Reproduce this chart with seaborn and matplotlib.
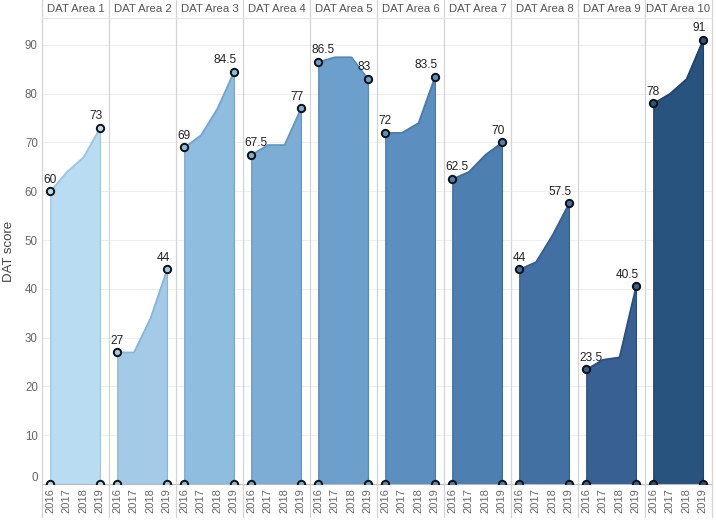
import matplotlib
matplotlib.use("Agg")
import matplotlib.pyplot as plt
import seaborn as sns
import pandas as pd
from matplotlib.lines import Line2D

areas = [f"DAT Area {i}" for i in range(1, 11)]
years = [2016, 2017, 2018, 2019]
s2016 = [60, 27, 69, 67.5, 86.5, 72, 62.5, 44, 23.5, 78]
s2017 = [64, 27, 71.5, 69.5, 87.5, 72, 64, 45.5, 25.5, 80]
s2018 = [67, 34, 77, 69.5, 87.5, 74, 67.5, 51, 26, 83]
s2019 = [73, 44, 84.5, 77, 83, 83.5, 70, 57.5, 40.5, 91]
y_ticks = [0, 10, 20, 30, 40, 50, 60, 70, 80, 90]

colors = ["#b9dcf2", "#a3cbe8", "#8fbde0", "#7dacd5", "#6c9fcb",
          "#5c8fc0", "#4e7fb1", "#4370a2", "#386092", "#28537f"]
edges = ["#9cc6e4", "#88b6d9", "#75a6cf", "#6596c4", "#5588ba",
         "#4a7aae", "#3e6c9f", "#345e8f", "#2b5080", "#1d446d"]

rows = []
for i, a in enumerate(areas):
    for y, v in zip(years, [s2016[i], s2017[i], s2018[i], s2019[i]]):
        rows.append({"area": a, "year": y, "score": v})
df = pd.DataFrame(rows)

sns.set_theme(style="white")
plt.rcParams["font.family"] = ["Liberation Sans", "DejaVu Sans"]

W, H = 716, 520
fig = plt.figure(figsize=(W / 100, H / 100), dpi=100)
left, right = 42 / W, 712 / W
bottom, top = (H - 484) / H, (H - 18) / H
pw = (right - left) / len(areas)

gray = "#666666"
for i, a in enumerate(areas):
    ax = fig.add_axes([left + i * pw, bottom, pw, top - bottom])
    d = df[df["area"] == a].reset_index(drop=True)
    xs = list(range(len(d)))
    ax.fill_between(xs, 0, d["score"], color=colors[i], edgecolor=edges[i],
                    linewidth=0.9, zorder=2)
    sns.lineplot(x=xs, y=d["score"].values, ax=ax, color=edges[i],
                 linewidth=0.9, zorder=3)
    ends = [0, len(d) - 1]
    ex = [xs[k] for k in ends]
    ey = [d["score"][k] for k in ends]
    sns.scatterplot(x=ex + ex, y=ey + [0, 0], ax=ax, color=colors[i],
                    edgecolor="#111111", linewidth=1.4, s=28, zorder=5)
    for coll in ax.collections:
        coll.set_clip_on(True)
        coll.set_clip_box(ax.bbox)
    for k, ha, dx in [(0, "left", -5), (len(d) - 1, "right", 2)]:
        v = d["score"][k]
        txt = f"{v:g}"
        ax.annotate(txt, (xs[k], v), xytext=(dx, 4), textcoords="offset points",
                    ha=ha, va="bottom", fontsize=8.6, color="#222222", zorder=6)
    ax.set_xlim(-0.5, 3.55)
    ax.set_ylim(0, 95.5)
    ax.set_xticks(xs)
    ax.set_xticklabels([str(y) for y in years], rotation=90, fontsize=8,
                       color=gray)
    ax.set_yticks(y_ticks)
    ax.grid(axis="y", color="#efefef", linewidth=0.8, zorder=0)
    ax.set_axisbelow(True)
    ax.tick_params(axis="both", length=0, pad=3)
    if i == 0:
        labs = ax.set_yticklabels([str(t) for t in y_ticks], fontsize=8.3,
                                  color=gray)
        labs[0].set_va("bottom")
        ax.set_ylabel("DAT score", fontsize=9.5, color="#444444", labelpad=7)
    else:
        ax.set_yticklabels([])
        ax.set_ylabel("")
    ax.set_xlabel("")
    for s in ["top", "left", "right"]:
        ax.spines[s].set_visible(False)
    ax.spines["bottom"].set_color("#bbbbbb")
    ax.spines["bottom"].set_linewidth(0.8)
    ax.set_title(a, fontsize=8.2, color="#555555", pad=4)

# panel separators and header line
for i in range(len(areas) + 1):
    x = left + i * pw
    fig.add_artist(Line2D([x, x], [3 / H, 1], transform=fig.transFigure,
                          color="#d4d4d4", linewidth=0.9))
fig.add_artist(Line2D([left, right], [top, top], transform=fig.transFigure,
                      color="#e6e6e6", linewidth=0.8))

fig.savefig("out.png", dpi=100)
